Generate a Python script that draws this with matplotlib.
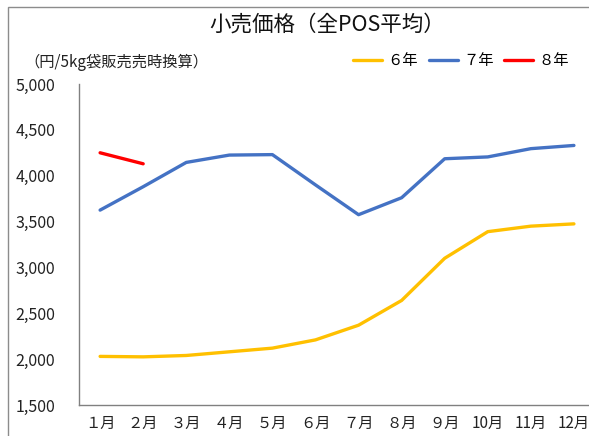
import matplotlib
matplotlib.use('Agg')
import matplotlib.pyplot as plt
from matplotlib.patches import Rectangle
from matplotlib.ticker import FuncFormatter, FixedLocator

plt.rcParams['font.family'] = ['Noto Sans CJK JP', 'DejaVu Sans']

# data (yen per 5kg bag)
months = ['１月', '２月', '３月', '４月', '５月', '６月', '７月', '８月', '９月', '10月', '11月', '12月']
r6 = [2030, 2025, 2040, 2080, 2120, 2210, 2370, 2640, 3100, 3390, 3450, 3475]
r7 = [3625, 3880, 4145, 4225, 4230, 3900, 3575, 3760, 4185, 4205, 4295, 4330]
r8 = [4250, 4130]

W, H = 589, 436
fig = plt.figure(figsize=(W / 100, H / 100), dpi=100)

# chart area frame (cropped on the right and bottom)
fig.patches.append(Rectangle((8 / W, -0.1), 1.2, 1 - 7 / H + 0.1, transform=fig.transFigure,
                             fill=False, edgecolor='#8c8c8c', linewidth=1.0))

ax = fig.add_axes([79 / W, (H - 405) / H, (W - 79) / W, 321 / H])

x = list(range(len(months)))
ax.plot(x, r6, color='#FFC000', lw=2.4, solid_capstyle='round', label='６年')
ax.plot(x, r7, color='#4472C4', lw=2.4, solid_capstyle='round', label='７年')
ax.plot(x[:len(r8)], r8, color='#FF0000', lw=2.4, solid_capstyle='round', label='８年')

ax.set_xlim(-0.49, 11.35)
ax.set_ylim(1500, 5000)
ax.set_xticks(x)
ax.set_xticklabels(months, fontsize=11)
ax.set_yticks(range(1500, 5001, 500))
ax.yaxis.set_major_formatter(FuncFormatter(lambda v, p: f'{int(v):,}'))
ax.yaxis.set_minor_locator(FixedLocator([1500, 5000]))
ax.tick_params(axis='y', which='major', length=0, pad=17, labelsize=11.5, labelcolor='#222222')
ax.tick_params(axis='y', which='minor', length=6, color='#808080')
ax.tick_params(axis='x', length=0, pad=7, labelcolor='#222222')

for s in ['top', 'right']:
    ax.spines[s].set_visible(False)
for s in ['left', 'bottom']:
    ax.spines[s].set_color('#808080')
    ax.spines[s].set_linewidth(1.0)

fig.text(327 / W, 1 - 25 / H, '小売価格（全POS平均）', ha='center', va='center', fontsize=15.5, color='#111111')
fig.text(24 / W, 1 - 62 / H, '（円/5kg袋販売売時換算）', ha='left', va='center', fontsize=11, color='#222222')

ax.legend(loc='center left', bbox_to_anchor=(353 / W, 1 - 61 / H), bbox_transform=fig.transFigure,
          ncol=3, frameon=False, fontsize=11, handlelength=1.9, handletextpad=0.35,
          columnspacing=0.7, borderaxespad=0, borderpad=0)

fig.savefig('out.png', dpi=100)
